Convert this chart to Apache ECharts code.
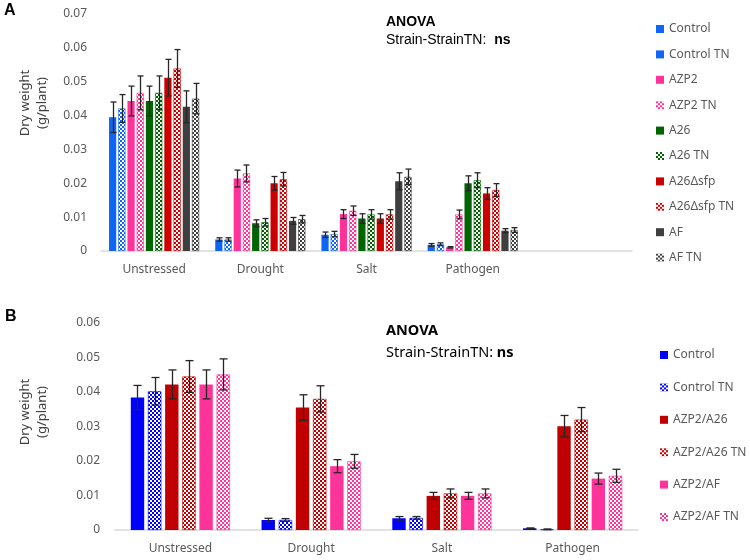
<!DOCTYPE html>
<html><head><meta charset="utf-8">
<script src="https://cdn.jsdelivr.net/npm/echarts@6/dist/echarts.min.js"></script>
<style>html,body{margin:0;padding:0;background:#fff}#c{width:750px;height:560px}</style>
</head><body><div id="c"></div>
<script>
// ---------- Panel A data ----------
const categoriesA = ['Unstressed', 'Drought', 'Salt', 'Pathogen', ''];
const namesA = ['Control', 'Control TN', 'AZP2', 'AZP2 TN', 'A26', 'A26 TN', 'A26Δsfp', 'A26Δsfp TN', 'AF', 'AF TN'];
const controlA    = [0.0395, 0.0034, 0.0048, 0.0018];
const controlTnA  = [0.0421, 0.0034, 0.0050, 0.0020];
const azp2A       = [0.0443, 0.0214, 0.0109, 0.0011];
const azp2TnA     = [0.0467, 0.0229, 0.0119, 0.0108];
const a26A        = [0.0443, 0.0082, 0.0096, 0.0200];
const a26TnA      = [0.0467, 0.0085, 0.0108, 0.0209];
const a26sfpA     = [0.0512, 0.0200, 0.0096, 0.0170];
const a26sfpTnA   = [0.0539, 0.0212, 0.0108, 0.0180];
const afA         = [0.0426, 0.0089, 0.0206, 0.0060];
const afTnA       = [0.0450, 0.0094, 0.0219, 0.0062];
const controlErrA   = [0.0045, 0.0005, 0.0008, 0.0004];
const controlTnErrA = [0.0041, 0.0005, 0.0008, 0.0004];
const azp2ErrA      = [0.0044, 0.0025, 0.0013, 0.0002];
const azp2TnErrA    = [0.0050, 0.0025, 0.0014, 0.0013];
const a26ErrA       = [0.0044, 0.0010, 0.0014, 0.0022];
const a26TnErrA     = [0.0050, 0.0011, 0.0014, 0.0022];
const a26sfpErrA    = [0.0054, 0.0020, 0.0014, 0.0017];
const a26sfpTnErrA  = [0.0056, 0.0020, 0.0014, 0.0019];
const afErrA        = [0.0047, 0.0010, 0.0025, 0.0006];
const afTnErrA      = [0.0045, 0.0011, 0.0023, 0.0007];
const yTicksA = [0, 0.01, 0.02, 0.03, 0.04, 0.05, 0.06, 0.07];

// ---------- Panel B data ----------
const categoriesB = ['Unstressed', 'Drought', 'Salt', 'Pathogen'];
const namesB = ['Control', 'Control TN', 'AZP2/A26', 'AZP2/A26 TN', 'AZP2/AF', 'AZP2/AF TN'];
const controlB     = [0.0384, 0.0029, 0.0034, 0.0005];
const controlTnB   = [0.0402, 0.0029, 0.0035, 0.0002];
const azpA26B      = [0.0422, 0.0355, 0.0099, 0.0301];
const azpA26TnB    = [0.0445, 0.0380, 0.0106, 0.0320];
const azpAfB       = [0.0422, 0.0185, 0.0099, 0.0149];
const azpAfTnB     = [0.0451, 0.0199, 0.0106, 0.0157];
const controlErrB   = [0.0035, 0.0005, 0.0005, 0.0001];
const controlTnErrB = [0.0040, 0.0004, 0.0004, 0.0001];
const azpA26ErrB    = [0.0042, 0.0037, 0.0010, 0.0031];
const azpA26TnErrB  = [0.0046, 0.0038, 0.0013, 0.0035];
const azpAfErrB     = [0.0042, 0.0019, 0.0010, 0.0016];
const azpAfTnErrB   = [0.0045, 0.0020, 0.0013, 0.0019];
const yTicksB = [0, 0.01, 0.02, 0.03, 0.04, 0.05, 0.06];

// ---------- styling ----------
function checker(color, bg, cell) {
  const c = document.createElement('canvas');
  c.width = c.height = cell * 2;
  const g = c.getContext('2d');
  g.fillStyle = bg; g.fillRect(0, 0, cell * 2, cell * 2);
  g.fillStyle = color; g.fillRect(0, 0, cell, cell); g.fillRect(cell, cell, cell, cell);
  return { image: c, repeat: 'repeat' };
}
const BLUE_A = '#0f66f5', PINK = '#ff3399', GREEN = '#006400', RED_A = '#cc0000', DARK = '#3f3f3f';
const BLUE_B = '#0000ff', RED_B = '#c00000';

const valsA = [controlA, controlTnA, azp2A, azp2TnA, a26A, a26TnA, a26sfpA, a26sfpTnA, afA, afTnA];
const errsA = [controlErrA, controlTnErrA, azp2ErrA, azp2TnErrA, a26ErrA, a26TnErrA, a26sfpErrA, a26sfpTnErrA, afErrA, afTnErrA];
const baseColA = [BLUE_A, BLUE_A, PINK, PINK, GREEN, GREEN, RED_A, RED_A, DARK, DARK];
const valsB = [controlB, controlTnB, azpA26B, azpA26TnB, azpAfB, azpAfTnB];
const errsB = [controlErrB, controlTnErrB, azpA26ErrB, azpA26TnErrB, azpAfErrB, azpAfTnErrB];
const baseColB = [BLUE_B, BLUE_B, RED_B, RED_B, PINK, PINK];

const BW_A = 7.2, GAP_A = 0.28, BW_B = 13.4, GAP_B = 0.28;
const font = 'Noto Sans';
const grey = '#595959';

function errRender(pitch, n, cap) {
  return function (params, api) {
    const cat = api.value(0), v = api.value(1), e = api.value(2), i = api.value(3);
    const p = api.coord([cat, v]);
    const hi = api.coord([cat, v + e]);
    const lo = api.coord([cat, Math.max(0, v - e)]);
    const x = Math.round(p[0] + (i - (n - 1) / 2) * pitch) + 0.5;
    const style = { stroke: '#262626', lineWidth: 1.3 };
    return { type: 'group', children: [
      { type: 'line', shape: { x1: x, y1: hi[1], x2: x, y2: lo[1] }, style },
      { type: 'line', shape: { x1: x - cap, y1: hi[1], x2: x + cap, y2: hi[1] }, style },
      { type: 'line', shape: { x1: x - cap, y1: lo[1], x2: x + cap, y2: lo[1] }, style }
    ]};
  };
}

const series = [];
namesA.forEach((nm, i) => {
  const tn = i % 2 === 1;
  series.push({
    name: nm, type: 'bar', xAxisIndex: 0, yAxisIndex: 0,
    data: valsA[i], barWidth: BW_A, barGap: (GAP_A * 100) + '%',
    itemStyle: tn ? { color: checker(baseColA[i], '#ffffff', 2), borderColor: baseColA[i], borderWidth: 0.6 } : { color: baseColA[i] },
    emphasis: { disabled: true }, animation: false
  });
});
const errDataA = [];
errsA.forEach((arr, i) => arr.forEach((e, j) => errDataA.push([j, valsA[i][j], e, i])));
series.push({ name: '_errA', type: 'custom', xAxisIndex: 0, yAxisIndex: 0, data: errDataA,
  encode: { x: 0, y: 1 }, renderItem: errRender(BW_A * (1 + GAP_A), namesA.length, 3), z: 10, animation: false, silent: true });

namesB.forEach((nm, i) => {
  const tn = i % 2 === 1;
  series.push({
    name: nm + ' ', type: 'bar', xAxisIndex: 1, yAxisIndex: 1,
    data: valsB[i], barWidth: BW_B, barGap: (GAP_B * 100) + '%',
    itemStyle: tn ? { color: checker(baseColB[i], '#ffffff', 2), borderColor: baseColB[i], borderWidth: 0.6 } : { color: baseColB[i] },
    emphasis: { disabled: true }, animation: false
  });
});
const errDataB = [];
errsB.forEach((arr, i) => arr.forEach((e, j) => errDataB.push([j, valsB[i][j], e, i])));
series.push({ name: '_errB', type: 'custom', xAxisIndex: 1, yAxisIndex: 1, data: errDataB,
  encode: { x: 0, y: 1 }, renderItem: errRender(BW_B * (1 + GAP_B), namesB.length, 4), z: 10, animation: false, silent: true });

const tickFmt = v => v === 0 ? '0' : v.toFixed(2);
function yAxis(grid, ticks, margin) {
  return { type: 'value', gridIndex: grid, min: ticks[0], max: ticks[ticks.length - 1], interval: 0.01,
    axisLine: { show: false }, axisTick: { show: false }, splitLine: { show: false },
    axisLabel: { color: grey, fontSize: 12, fontFamily: font, margin: margin, formatter: tickFmt } };
}
function xAxis(grid, cats) {
  return { type: 'category', gridIndex: grid, data: cats,
    axisLine: { lineStyle: { color: '#d9d9d9', width: 1.5 } }, axisTick: { show: false },
    axisLabel: { color: grey, fontSize: 12, fontFamily: font, margin: 13, interval: 0 } };
}

const legendA = namesA.map((nm, i) => i === 1 ? { name: nm, itemStyle: { color: BLUE_A, borderWidth: 0 } } : { name: nm });
const legendB = namesB.map(nm => ({ name: nm + ' ' }));

const option = {
  backgroundColor: '#ffffff',
  animation: false,
  grid: [
    { left: 101, top: 14, width: 531, height: 237 },
    { left: 115, top: 323, width: 523, height: 207 }
  ],
  xAxis: [xAxis(0, categoriesA), xAxis(1, categoriesB)],
  yAxis: [yAxis(0, yTicksA, 14), yAxis(1, yTicksB, 15)],
  legend: [
    { data: legendA, orient: 'vertical', left: 651, top: 16, itemWidth: 8, itemHeight: 8, itemGap: 9.4, icon: 'rect',
      itemStyle: { borderWidth: 0 },
      textStyle: { color: grey, fontSize: 12, fontFamily: font, lineHeight: 16 }, selectedMode: false },
    { data: legendB, orient: 'vertical', left: 655, top: 342, itemWidth: 8, itemHeight: 8, itemGap: 16.4, icon: 'rect',
      itemStyle: { borderWidth: 0 },
      textStyle: { color: grey, fontSize: 12, fontFamily: font, lineHeight: 16 }, selectedMode: false,
      formatter: n => n.trim() }
  ],
  graphic: [
    { type: 'text', left: 4, top: 3, style: { text: 'A', font: 'bold 16px "Liberation Sans"', fill: '#000' } },
    { type: 'text', left: 5, top: 309, style: { text: 'B', font: 'bold 16px "Liberation Sans"', fill: '#000' } },
    { type: 'text', x: 386, y: 22, style: { text: 'ANOVA', font: 'bold 14px "Liberation Sans"', fill: '#000', verticalAlign: 'middle' } },
    { type: 'text', x: 386, y: 40, style: { text: '{a|Strain-StrainTN:  }{b|ns}', verticalAlign: 'middle',
        rich: { a: { font: '14px "Liberation Sans"', fill: '#000' }, b: { font: 'bold 14px "Liberation Sans"', fill: '#000' } } } },
    { type: 'text', x: 386, y: 331, style: { text: 'ANOVA', font: 'bold 14.5px "Noto Sans"', fill: '#000', verticalAlign: 'middle' } },
    { type: 'text', x: 386, y: 353, style: { text: '{a|Strain-StrainTN: }{b|ns}', verticalAlign: 'middle',
        rich: { a: { font: '14.5px "Noto Sans"', fill: '#000' }, b: { font: 'bold 14.5px "Noto Sans"', fill: '#000' } } } },
    { type: 'text', x: 25, y: 103, rotation: Math.PI / 2, style: { text: 'Dry weight', font: '13px "Noto Sans"', fill: '#404040', align: 'center', verticalAlign: 'middle' } },
    { type: 'text', x: 42, y: 103, rotation: Math.PI / 2, style: { text: '(g/plant)', font: '13px "Noto Sans"', fill: '#404040', align: 'center', verticalAlign: 'middle' } },
    { type: 'text', x: 25, y: 412, rotation: Math.PI / 2, style: { text: 'Dry weight', font: '13px "Noto Sans"', fill: '#404040', align: 'center', verticalAlign: 'middle' } },
    { type: 'text', x: 42, y: 412, rotation: Math.PI / 2, style: { text: '(g/plant)', font: '13px "Noto Sans"', fill: '#404040', align: 'center', verticalAlign: 'middle' } }
  ],
  series: series
};
const chart = echarts.init(document.getElementById('c'), null, { renderer: 'canvas' });
chart.setOption(option);
</script>
</body></html>
